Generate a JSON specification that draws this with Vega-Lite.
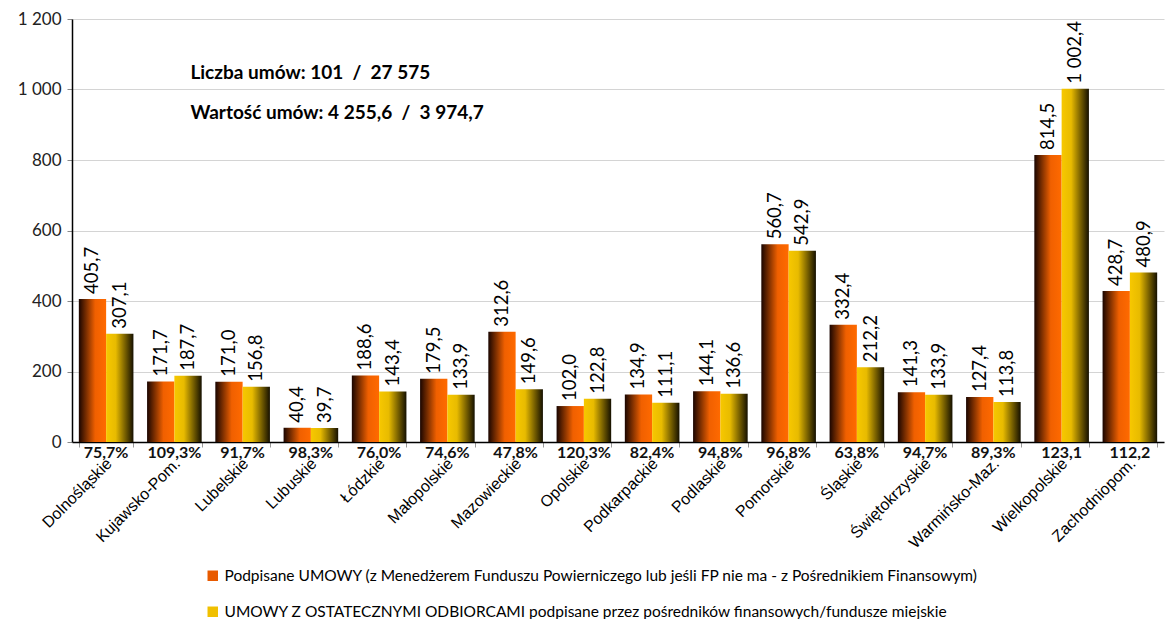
{
  "$schema": "https://vega.github.io/schema/vega-lite/v6.json",
  "width": 1092,
  "height": 423,
  "autosize": "none",
  "padding": {"left": 72, "top": 19, "right": 1, "bottom": 177},
  "background": "white",
  "config": {
    "locale": {"number": {"decimal": ",", "thousands": " ", "grouping": [3], "currency": ["", ""]}},
    "view": {"stroke": null},
    "font": "Lato"
  },
  "datasets": {
    "bars": [
      {"region": "Dolnośląskie", "series": "Podpisane UMOWY (z Menedżerem Funduszu Powierniczego lub jeśli FP nie ma - z Pośrednikiem Finansowym)", "s": 1, "value": 405.7},
      {"region": "Dolnośląskie", "series": "UMOWY Z OSTATECZNYMI ODBIORCAMI podpisane przez pośredników finansowych/fundusze miejskie", "s": 2, "value": 307.1},
      {"region": "Kujawsko-Pom.", "series": "Podpisane UMOWY (z Menedżerem Funduszu Powierniczego lub jeśli FP nie ma - z Pośrednikiem Finansowym)", "s": 1, "value": 171.7},
      {"region": "Kujawsko-Pom.", "series": "UMOWY Z OSTATECZNYMI ODBIORCAMI podpisane przez pośredników finansowych/fundusze miejskie", "s": 2, "value": 187.7},
      {"region": "Lubelskie", "series": "Podpisane UMOWY (z Menedżerem Funduszu Powierniczego lub jeśli FP nie ma - z Pośrednikiem Finansowym)", "s": 1, "value": 171.0},
      {"region": "Lubelskie", "series": "UMOWY Z OSTATECZNYMI ODBIORCAMI podpisane przez pośredników finansowych/fundusze miejskie", "s": 2, "value": 156.8},
      {"region": "Lubuskie", "series": "Podpisane UMOWY (z Menedżerem Funduszu Powierniczego lub jeśli FP nie ma - z Pośrednikiem Finansowym)", "s": 1, "value": 40.4},
      {"region": "Lubuskie", "series": "UMOWY Z OSTATECZNYMI ODBIORCAMI podpisane przez pośredników finansowych/fundusze miejskie", "s": 2, "value": 39.7},
      {"region": "Łódzkie", "series": "Podpisane UMOWY (z Menedżerem Funduszu Powierniczego lub jeśli FP nie ma - z Pośrednikiem Finansowym)", "s": 1, "value": 188.6},
      {"region": "Łódzkie", "series": "UMOWY Z OSTATECZNYMI ODBIORCAMI podpisane przez pośredników finansowych/fundusze miejskie", "s": 2, "value": 143.4},
      {"region": "Małopolskie", "series": "Podpisane UMOWY (z Menedżerem Funduszu Powierniczego lub jeśli FP nie ma - z Pośrednikiem Finansowym)", "s": 1, "value": 179.5},
      {"region": "Małopolskie", "series": "UMOWY Z OSTATECZNYMI ODBIORCAMI podpisane przez pośredników finansowych/fundusze miejskie", "s": 2, "value": 133.9},
      {"region": "Mazowieckie", "series": "Podpisane UMOWY (z Menedżerem Funduszu Powierniczego lub jeśli FP nie ma - z Pośrednikiem Finansowym)", "s": 1, "value": 312.6},
      {"region": "Mazowieckie", "series": "UMOWY Z OSTATECZNYMI ODBIORCAMI podpisane przez pośredników finansowych/fundusze miejskie", "s": 2, "value": 149.6},
      {"region": "Opolskie", "series": "Podpisane UMOWY (z Menedżerem Funduszu Powierniczego lub jeśli FP nie ma - z Pośrednikiem Finansowym)", "s": 1, "value": 102.0},
      {"region": "Opolskie", "series": "UMOWY Z OSTATECZNYMI ODBIORCAMI podpisane przez pośredników finansowych/fundusze miejskie", "s": 2, "value": 122.8},
      {"region": "Podkarpackie", "series": "Podpisane UMOWY (z Menedżerem Funduszu Powierniczego lub jeśli FP nie ma - z Pośrednikiem Finansowym)", "s": 1, "value": 134.9},
      {"region": "Podkarpackie", "series": "UMOWY Z OSTATECZNYMI ODBIORCAMI podpisane przez pośredników finansowych/fundusze miejskie", "s": 2, "value": 111.1},
      {"region": "Podlaskie", "series": "Podpisane UMOWY (z Menedżerem Funduszu Powierniczego lub jeśli FP nie ma - z Pośrednikiem Finansowym)", "s": 1, "value": 144.1},
      {"region": "Podlaskie", "series": "UMOWY Z OSTATECZNYMI ODBIORCAMI podpisane przez pośredników finansowych/fundusze miejskie", "s": 2, "value": 136.6},
      {"region": "Pomorskie", "series": "Podpisane UMOWY (z Menedżerem Funduszu Powierniczego lub jeśli FP nie ma - z Pośrednikiem Finansowym)", "s": 1, "value": 560.7},
      {"region": "Pomorskie", "series": "UMOWY Z OSTATECZNYMI ODBIORCAMI podpisane przez pośredników finansowych/fundusze miejskie", "s": 2, "value": 542.9},
      {"region": "Śląskie", "series": "Podpisane UMOWY (z Menedżerem Funduszu Powierniczego lub jeśli FP nie ma - z Pośrednikiem Finansowym)", "s": 1, "value": 332.4},
      {"region": "Śląskie", "series": "UMOWY Z OSTATECZNYMI ODBIORCAMI podpisane przez pośredników finansowych/fundusze miejskie", "s": 2, "value": 212.2},
      {"region": "Świętokrzyskie", "series": "Podpisane UMOWY (z Menedżerem Funduszu Powierniczego lub jeśli FP nie ma - z Pośrednikiem Finansowym)", "s": 1, "value": 141.3},
      {"region": "Świętokrzyskie", "series": "UMOWY Z OSTATECZNYMI ODBIORCAMI podpisane przez pośredników finansowych/fundusze miejskie", "s": 2, "value": 133.9},
      {"region": "Warmińsko-Maz.", "series": "Podpisane UMOWY (z Menedżerem Funduszu Powierniczego lub jeśli FP nie ma - z Pośrednikiem Finansowym)", "s": 1, "value": 127.4},
      {"region": "Warmińsko-Maz.", "series": "UMOWY Z OSTATECZNYMI ODBIORCAMI podpisane przez pośredników finansowych/fundusze miejskie", "s": 2, "value": 113.8},
      {"region": "Wielkopolskie", "series": "Podpisane UMOWY (z Menedżerem Funduszu Powierniczego lub jeśli FP nie ma - z Pośrednikiem Finansowym)", "s": 1, "value": 814.5},
      {"region": "Wielkopolskie", "series": "UMOWY Z OSTATECZNYMI ODBIORCAMI podpisane przez pośredników finansowych/fundusze miejskie", "s": 2, "value": 1002.4},
      {"region": "Zachodniopom.", "series": "Podpisane UMOWY (z Menedżerem Funduszu Powierniczego lub jeśli FP nie ma - z Pośrednikiem Finansowym)", "s": 1, "value": 428.7},
      {"region": "Zachodniopom.", "series": "UMOWY Z OSTATECZNYMI ODBIORCAMI podpisane przez pośredników finansowych/fundusze miejskie", "s": 2, "value": 480.9}
    ],
    "pct": [
      {"region": "Dolnośląskie", "pct": "75,7%"},
      {"region": "Kujawsko-Pom.", "pct": "109,3%"},
      {"region": "Lubelskie", "pct": "91,7%"},
      {"region": "Lubuskie", "pct": "98,3%"},
      {"region": "Łódzkie", "pct": "76,0%"},
      {"region": "Małopolskie", "pct": "74,6%"},
      {"region": "Mazowieckie", "pct": "47,8%"},
      {"region": "Opolskie", "pct": "120,3%"},
      {"region": "Podkarpackie", "pct": "82,4%"},
      {"region": "Podlaskie", "pct": "94,8%"},
      {"region": "Pomorskie", "pct": "96,8%"},
      {"region": "Śląskie", "pct": "63,8%"},
      {"region": "Świętokrzyskie", "pct": "94,7%"},
      {"region": "Warmińsko-Maz.", "pct": "89,3%"},
      {"region": "Wielkopolskie", "pct": "123,1"},
      {"region": "Zachodniopom.", "pct": "112,2"}
    ],
    "notes": [
      {"region": "Kujawsko-Pom.", "y": 1047, "t": "Liczba umów: 101 \u00a0/ \u00a027 575"},
      {"region": "Kujawsko-Pom.", "y": 934, "t": "Wartość umów: 4 255,6 \u00a0/ \u00a03 974,7"}
    ]
  },
  "encoding": {
    "x": {
      "field": "region", "type": "nominal", "sort": null,
      "scale": {"paddingInner": 0.2, "paddingOuter": 0.1},
      "axis": {
        "title": null, "labelAngle": -45, "labelFont": "Liberation Sans", "labelFontSize": 16,
        "labelColor": "#000", "domainColor": "#000", "domainWidth": 1.5, "tickColor": "#999",
        "tickBand": "extent", "tickSize": 5, "labelOffset": -3, "labelPadding": 8, "labelAlign": "right", "labelBaseline": "top"
      }
    }
  },
  "layer": [
    {
      "data": {"name": "bars"},
      "transform": [{"filter": "datum.s == 1"}],
      "mark": {"type": "bar", "fill": {"gradient": "linear", "x1": 0, "y1": 0, "x2": 1, "y2": 0, "stops": [{"offset": 0, "color": "#1a0500"}, {"offset": 0.6, "color": "#f06000"}, {"offset": 1, "color": "#ff6a00"}]}},
      "encoding": {
        "xOffset": {"field": "s", "type": "nominal", "scale": {"domain": [1, 2], "paddingInner": 0}},
        "y": {"field": "value", "type": "quantitative", "scale": {"domain": [0, 1200]},
          "axis": {"title": null, "values": [0, 200, 400, 600, 800, 1000, 1200], "format": ",d", "labelFontSize": 17, "labelColor": "#222", "domainColor": "#000", "domainWidth": 1.5, "tickColor": "#888", "tickSize": 5, "gridColor": "#d4d4d4", "labelPadding": 6}}
      }
    },
    {
      "data": {"name": "bars"},
      "transform": [{"filter": "datum.s == 2"}],
      "mark": {"type": "bar", "fill": {"gradient": "linear", "x1": 0, "y1": 0, "x2": 1, "y2": 0, "stops": [{"offset": 0, "color": "#f7c800"}, {"offset": 0.35, "color": "#e8bb00"}, {"offset": 1, "color": "#151000"}]}},
      "encoding": {
        "xOffset": {"field": "s", "type": "nominal"},
        "y": {"field": "value", "type": "quantitative"}
      }
    },
    {
      "data": {"name": "bars"},
      "mark": {"type": "text", "angle": 270, "align": "left", "baseline": "middle", "dx": 5, "fontSize": 18.5, "color": "#000"},
      "encoding": {
        "xOffset": {"field": "s", "type": "nominal"},
        "y": {"field": "value", "type": "quantitative"},
        "text": {"field": "value", "type": "quantitative", "format": ",.1f"}
      }
    },
    {
      "data": {"name": "bars"},
      "mark": {"type": "square", "opacity": 0, "size": 1},
      "encoding": {
        "y": {"datum": 0},
        "color": {"field": "series", "type": "nominal",
          "scale": {"range": ["#e85a00", "#f0c000"]},
          "legend": {"title": null, "orient": "none", "legendX": 133, "legendY": 549, "direction": "vertical",
            "symbolType": "square", "symbolSize": 110, "symbolOpacity": 1, "labelFontSize": 15.5, "labelLimit": 0,
            "rowPadding": 19, "labelColor": "#000", "symbolStrokeWidth": 0}}
      }
    },
    {
      "data": {"name": "pct"},
      "mark": {"type": "text", "fontWeight": "bold", "fontSize": 16, "baseline": "middle", "align": "center", "dy": 11, "color": "#111"},
      "encoding": {
        "y": {"datum": 0},
        "text": {"field": "pct"}
      }
    },
    {
      "data": {"name": "notes"},
      "mark": {"type": "text", "fontWeight": "bold", "fontSize": 19, "align": "left", "baseline": "middle", "dx": 16, "color": "#000"},
      "encoding": {
        "y": {"field": "y", "type": "quantitative"},
        "text": {"field": "t"}
      }
    }
  ]
}
